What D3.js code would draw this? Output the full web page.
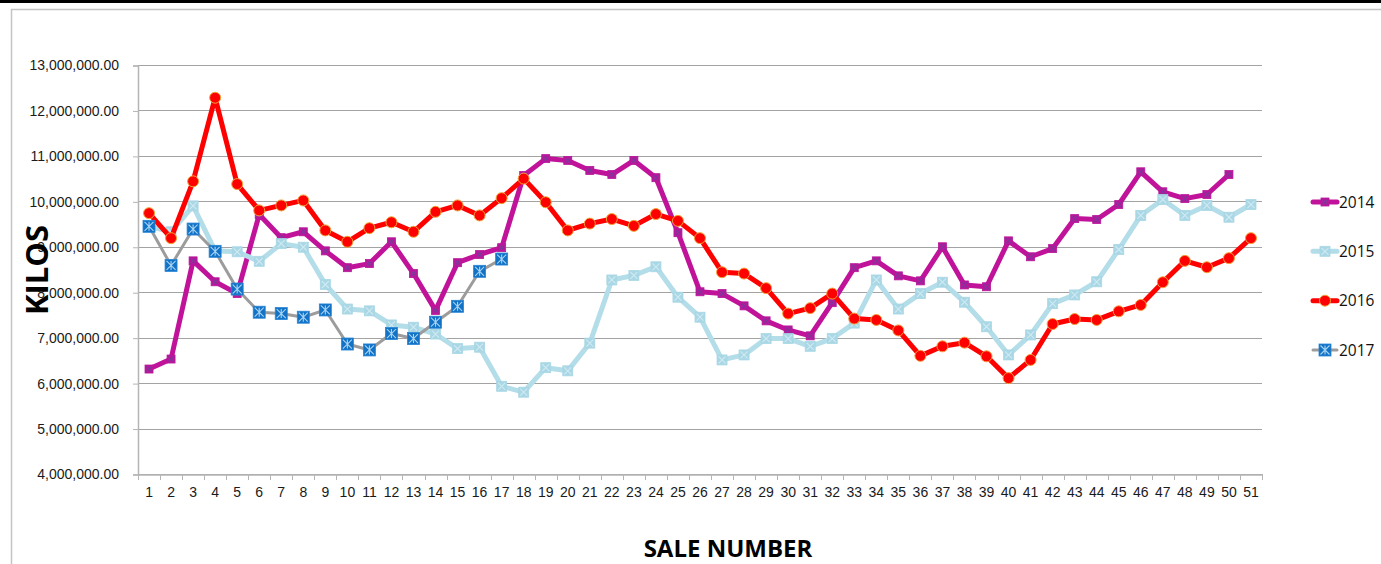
<!DOCTYPE html>
<html>
<head>
<meta charset="utf-8">
<script src="https://cdn.jsdelivr.net/npm/d3@7"></script>
<style>
  body { margin: 0; background: #fff; }
  svg { display: block; font-family: "Open Sans", "DejaVu Sans", sans-serif; }
</style>
</head>
<body>
<svg id="chart" width="1381" height="564"></svg>
<script>
// sale numbers 1..51
var sales = d3.range(1, 52);
var yTicks = [4e6, 5e6, 6e6, 7e6, 8e6, 9e6, 10e6, 11e6, 12e6, 13e6];

// kilos per sale, in millions
var kilos2014 = [6.31, 6.53, 8.69, 8.23, 7.97, 9.71, 9.20, 9.33, 8.91, 8.54,
                 8.63, 9.11, 8.41, 7.60, 8.65, 8.83, 8.98, 10.57, 10.94, 10.90,
                 10.68, 10.59, 10.90, 10.52, 9.31, 8.01, 7.97, 7.70, 7.37, 7.17,
                 7.04, 7.77, 8.54, 8.69, 8.36, 8.25, 9.00, 8.16, 8.12, 9.13,
                 8.78, 8.96, 9.62, 9.60, 9.93, 10.65, 10.21, 10.06, 10.15, 10.59];
var kilos2015 = [9.45, 9.33, 9.90, 8.91, 8.89, 8.68, 9.07, 8.99, 8.17, 7.63,
                 7.59, 7.28, 7.23, 7.08, 6.76, 6.79, 5.93, 5.80, 6.34, 6.27,
                 6.88, 8.27, 8.37, 8.56, 7.89, 7.45, 6.51, 6.62, 6.98, 6.98,
                 6.81, 6.98, 7.32, 8.27, 7.63, 7.97, 8.22, 7.78, 7.24, 6.62,
                 7.06, 7.75, 7.94, 8.23, 8.94, 9.69, 10.04, 9.69, 9.91, 9.65, 9.93];
var kilos2016 = [9.74, 9.19, 10.44, 12.28, 10.38, 9.80, 9.91, 10.02, 9.36, 9.11,
                 9.41, 9.54, 9.33, 9.77, 9.91, 9.69, 10.07, 10.50, 9.98, 9.36,
                 9.51, 9.61, 9.46, 9.72, 9.57, 9.19, 8.44, 8.41, 8.09, 7.53,
                 7.65, 7.97, 7.42, 7.39, 7.16, 6.60, 6.81, 6.89, 6.59, 6.11,
                 6.51, 7.30, 7.41, 7.39, 7.58, 7.72, 8.22, 8.69, 8.55, 8.75, 9.19];
var kilos2017 = [9.45, 8.59, 9.39, 8.90, 8.07, 7.56, 7.53, 7.45, 7.61, 6.86,
                 6.73, 7.09, 6.98, 7.34, 7.69, 8.46, 8.73];

var years = ["2014", "2015", "2016", "2017"];

var series = [
  { name: "2014", values: kilos2014, line: "#C0139A", width: 5, marker: "xsquare", size: 8, fill: "#B8179B", mark: "#7A3A9A" },
  { name: "2015", values: kilos2015, line: "#B3DDE8", width: 5, marker: "xsquare", size: 10, fill: "#A9D7E5", mark: "#CFEAF2" },
  { name: "2016", values: kilos2016, line: "#FF0000", width: 5, marker: "circle", size: 11, fill: "#FF0000", mark: "#F2A23A" },
  { name: "2017", values: kilos2017, line: "#9C9C9C", width: 3, marker: "star", size: 12, fill: "#1172C6", mark: "#A8D3F2" }
];

var svg = d3.select("#chart");
var margin = { left: 138, right: 119, top: 65, bottom: 90 };
var W = 1381, H = 564;

// page frame
svg.append("rect").attr("x", 0).attr("y", 0).attr("width", W).attr("height", 3).attr("fill", "#000");
svg.append("path")
    .attr("d", "M11.5," + H + "V9.5H" + W)
    .attr("fill", "none").attr("stroke", "#c4c4c4").attr("stroke-width", 1.5);

var x = d3.scaleBand().domain(sales).range([margin.left, 1262]);
var y = d3.scaleLinear().domain([4e6, 13e6]).range([474, 65]);

// gridlines
svg.append("g").selectAll("line")
    .data(yTicks)
    .enter().append("line")
    .attr("x1", margin.left).attr("x2", 1262)
    .attr("y1", function (d) { return Math.round(y(d)) + 0.5; })
    .attr("y2", function (d) { return Math.round(y(d)) + 0.5; })
    .attr("stroke", "#a3a3a3").attr("stroke-width", 1);

// y axis
var yAxis = d3.axisLeft(y).tickValues(yTicks).tickSize(5).tickPadding(14)
    .tickFormat(d3.format(",.2f"));
var gy = svg.append("g").attr("transform", "translate(" + margin.left + ",0.5)").call(yAxis);
gy.select(".domain").attr("stroke", "#b5b5b5").attr("stroke-width", 1.5);
gy.selectAll(".tick line").attr("stroke", "#b5b5b5");
gy.selectAll("text").style("font-size", "14px").attr("fill", "#1a1a1a");

// x axis
var xAxis = d3.axisBottom(x).tickSize(0).tickPadding(13);
var gx = svg.append("g").attr("transform", "translate(0,474.5)").call(xAxis);
gx.select(".domain").attr("stroke", "#b5b5b5").attr("stroke-width", 1.5);
gx.selectAll("text").style("font-size", "14px").attr("fill", "#1a1a1a");
// tick marks at category boundaries
svg.append("g").selectAll("line")
    .data(sales.concat([52]))
    .enter().append("line")
    .attr("x1", function (d) { return Math.round(margin.left + x.step() * (d - 1)) + 0.5; })
    .attr("x2", function (d) { return Math.round(margin.left + x.step() * (d - 1)) + 0.5; })
    .attr("y1", 474).attr("y2", 480)
    .attr("stroke", "#b5b5b5");

function cx(i) { return x(i + 1) + x.bandwidth() / 2; }

function drawMarker(g, s, px, py) {
    var h = s.size / 2;
    if (s.marker === "circle") {
        g.append("circle").attr("cx", px).attr("cy", py).attr("r", h)
            .attr("fill", s.fill).attr("stroke", s.mark).attr("stroke-width", 1);
        return;
    }
    g.append("rect").attr("x", px - h).attr("y", py - h).attr("width", s.size).attr("height", s.size)
        .attr("fill", s.fill).attr("stroke", s.fill === "#1172C6" ? "#2a86d6" : s.fill).attr("stroke-width", 0.8);
    var k = h - 1.5;
    var p = "M" + (px - k) + "," + (py - k) + "L" + (px + k) + "," + (py + k) +
            "M" + (px - k) + "," + (py + k) + "L" + (px + k) + "," + (py - k);
    if (s.marker === "star") p += "M" + px + "," + (py - k) + "L" + px + "," + (py + k);
    g.append("path").attr("d", p).attr("stroke", s.mark).attr("stroke-width", 1.1).attr("fill", "none");
}

var line = d3.line()
    .x(function (d, i) { return cx(i); })
    .y(function (d) { return y(d * 1e6); });

series.forEach(function (s) {
    var g = svg.append("g").attr("class", "series-" + s.name);
    g.append("path")
        .datum(s.values)
        .attr("d", line)
        .attr("fill", "none")
        .attr("stroke", s.line)
        .attr("stroke-width", s.width)
        .attr("stroke-linejoin", "round")
        .attr("stroke-linecap", "round");
    s.values.forEach(function (v, i) {
        drawMarker(g, s, cx(i), y(v * 1e6));
    });
});

// legend
var legendY = d3.scalePoint().domain(years).range([202, 350]);
series.forEach(function (s) {
    var ly = legendY(s.name);
    var g = svg.append("g");
    g.append("line").attr("x1", 1313).attr("x2", 1337).attr("y1", ly).attr("y2", ly)
        .attr("stroke", s.line).attr("stroke-width", s.width).attr("stroke-linecap", "round");
    drawMarker(g, s, 1325, ly);
    g.append("text").attr("x", 1339).attr("y", ly + 5.5)
        .style("font-size", "15.5px").attr("fill", "#111").text(s.name);
});

// axis titles
svg.append("text")
    .attr("transform", "translate(48,270) rotate(-90)")
    .attr("text-anchor", "middle")
    .style("font-size", "31px").style("font-weight", "700")
    .attr("fill", "#000")
    .text("KILOS");

svg.append("text")
    .attr("x", 728).attr("y", 557)
    .attr("text-anchor", "middle")
    .style("font-size", "24px").style("font-weight", "700")
    .attr("fill", "#000")
    .text("SALE NUMBER");
</script>
</body>
</html>
